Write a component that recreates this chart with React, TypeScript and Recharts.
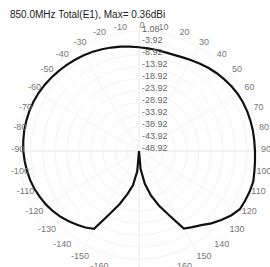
import React from 'react';
import { RadarChart, Radar, PolarGrid, PolarAngleAxis, PolarRadiusAxis } from 'recharts';

// clockwise from top, 5 degree steps
const angles = [
  0, 5, 10, 15, 20, 25, 30, 35, 40, 45, 50, 55, 60, 65, 70, 75, 80, 85, 90,
  95, 100, 105, 110, 115, 120, 125, 130, 135, 140, 145, 150, 155, 160, 165, 170, 175, 180,
  -175, -170, -165, -160, -155, -150, -145, -140, -135, -130, -125, -120, -115, -110, -105, -100,
  -95, -90, -85, -80, -75, -70, -65, -60, -55, -50, -45, -40, -35, -30, -25, -20, -15, -10, -5,
];

// gain in dBi
const gain = [
  -5.7, -6.0, -6.2, -6.4, -6.3, -5.9, -5.3, -4.6, -3.8, -3.1, -2.5, -1.9, -1.4, -1.1, -0.9, -0.8, -0.7, -0.7, -0.6,
  -0.4, -0.1, 0.36, 0.2, -0.1, -0.4, -2.1, -4.2, -6.3, -8.6, -10.2, -11.6, -19.5, -24.8, -29.8, -35.2, -41.5, -48.92,
  -40.5, -34.5, -30.5, -25.5, -20.0, -11.5, -10.0, -8.8, -7.5, -6.3, -5.2, -4.2, -3.4, -2.6, -2.0, -1.5,
  -1.1, -0.7, -0.5, -0.35, -0.3, -0.3, -0.4, -0.6, -0.9, -1.3, -1.7, -2.1, -2.5, -2.9, -3.3, -3.8, -4.3, -4.8, -5.3,
];

const radiusTicks = [1.08, -3.92, -8.92, -13.92, -18.92, -23.92, -28.92, -33.92, -38.92, -43.92, -48.92];
const gridAngles = [90, 60, 30, 0, -30, -60, -90, -120, -150, -180, -210, -240];

const chartData = angles.map((a, i) => ({ angle: a, gain: gain[i] }));

const CX = 139;
const CY = 151;
const R = 120;

const AngleTick = ({ payload }: any) => {
  const v = payload.value;
  if (v % 10 !== 0) return null;
  const th = (v * Math.PI) / 180;
  const x = CX + 3 + 124 * Math.sin(th);
  const y = CY - 2 - 124 * Math.cos(th);
  return (
    <text x={x} y={y} textAnchor="middle" dominantBaseline="central" fontSize={9} fill="#777" fontFamily="Liberation Sans, Arial, sans-serif">
      {v}
    </text>
  );
};

const RadiusTick = ({ x, y, payload }: any) => (
  <text x={x + 3} y={y + 0.5} textAnchor="start" fontSize={9} fill="#666" fontFamily="Liberation Sans, Arial, sans-serif">
    {Number(payload.value).toFixed(2)}
  </text>
);

export default function App() {
  return (
    <div style={{ position: 'relative', width: 270, height: 267, background: '#fff', overflow: 'hidden' }}>
      <style>{`body{margin:0}`}</style>
      <svg width={270} height={267} style={{ position: 'absolute', left: 0, top: 0 }}>
        <line x1={CX - R} y1={CY} x2={CX + R} y2={CY} stroke="#e0e0e0" strokeWidth={1} />
        <line x1={CX} y1={CY - R} x2={CX} y2={CY + R} stroke="#e8e8e8" strokeWidth={1} />
      </svg>
      <div style={{ position: 'absolute', left: 0, top: 0 }}>
        <RadarChart width={270} height={267} data={chartData} cx={CX} cy={CY} outerRadius={R} startAngle={90} endAngle={-270} margin={{ top: 0, right: 0, bottom: 0, left: 0 }}>
          <PolarGrid gridType="circle" stroke="#f3f3f3" polarAngles={gridAngles} />
          <PolarAngleAxis dataKey="angle" tick={<AngleTick />} tickLine={false} axisLine={false} />
          <PolarRadiusAxis angle={90} domain={[-48.92, 1.08]} ticks={radiusTicks} tick={<RadiusTick />} tickLine={false} axisLine={false} />
          <Radar dataKey="gain" stroke="#111" strokeWidth={2.2} fill="none" dot={false} isAnimationActive={false} />
        </RadarChart>
      </div>
      <div style={{ position: 'absolute', left: 10, top: 10, fontSize: 10, lineHeight: '10px', color: '#222', fontFamily: 'Liberation Sans, Arial, sans-serif', whiteSpace: 'nowrap' }}>
        850.0MHz Total(E1), Max= 0.36dBi
      </div>
    </div>
  );
}
